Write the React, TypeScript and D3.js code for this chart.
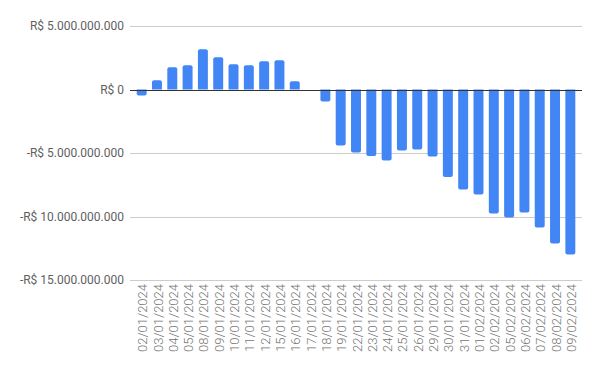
import React, { useRef, useEffect } from "react";
import * as d3 from "d3";

// datas do eixo x
const dates = [
  "02/01/2024", "03/01/2024", "04/01/2024", "05/01/2024", "08/01/2024",
  "09/01/2024", "10/01/2024", "11/01/2024", "12/01/2024", "15/01/2024",
  "16/01/2024", "17/01/2024", "18/01/2024", "19/01/2024", "22/01/2024",
  "23/01/2024", "24/01/2024", "25/01/2024", "26/01/2024", "29/01/2024",
  "30/01/2024", "31/01/2024", "01/02/2024", "02/02/2024", "05/02/2024",
  "06/02/2024", "07/02/2024", "08/02/2024", "09/02/2024",
];

// saldo acumulado em reais
const values = [
  -470000000, 730000000, 1760000000, 1910000000, 3170000000,
  2540000000, 1990000000, 1910000000, 2230000000, 2310000000,
  650000000, 0, -940000000, -4410000000, -4960000000,
  -5230000000, -5590000000, -4800000000, -4720000000, -5280000000,
  -6880000000, -7870000000, -8270000000, -9760000000, -10080000000,
  -9690000000, -10870000000, -12130000000, -12990000000,
];

const yTicks = [5000000000, 0, -5000000000, -10000000000, -15000000000];

const fmt = (v: number) => {
  const s = d3.format(",")(Math.abs(v)).replace(/,/g, ".");
  return (v < 0 ? "-" : "") + "R$ " + s;
};

const App = () => {
  const svgRef = useRef<SVGSVGElement>(null);

  useEffect(() => {
    const svg = d3.select(svgRef.current);
    svg.selectAll("*").remove();

    const left = 130, right = 582;

    const x = d3
      .scaleBand()
      .domain(dates)
      .range([134, 578])
      .paddingInner(0.35)
      .paddingOuter(0.175);

    const y = d3
      .scaleLinear()
      .domain([-15000000000, 5000000000])
      .range([280, 26]);

    // grid
    svg
      .append("g")
      .selectAll("line")
      .data(yTicks.filter((d) => d !== 0))
      .join("line")
      .attr("x1", left)
      .attr("x2", right)
      .attr("y1", (d) => Math.round(y(d)) + 0.5)
      .attr("y2", (d) => Math.round(y(d)) + 0.5)
      .attr("stroke", "#cccccc");

    svg
      .append("g")
      .selectAll("text")
      .data(yTicks)
      .join("text")
      .attr("x", 124)
      .attr("y", (d) => y(d))
      .attr("dy", "0.35em")
      .attr("text-anchor", "end")
      .attr("font-family", "Roboto, sans-serif")
      .attr("font-size", 12)
      .attr("fill", "#5f5f5f")
      .text((d) => fmt(d));

    // barras
    const bw = x.bandwidth();
    const r = 2;
    svg
      .append("g")
      .selectAll("path")
      .data(values.map((v, i) => ({ v, d: dates[i] })).filter((e) => e.v !== 0))
      .join("path")
      .attr("fill", "#4285f4")
      .attr("d", (e) => {
        const x0 = x(e.d)!;
        const y0 = y(0);
        const y1 = y(e.v);
        const s = e.v > 0 ? 1 : -1;
        const p = d3.path();
        p.moveTo(x0, y0);
        p.lineTo(x0, y1 + s * r);
        p.arcTo(x0, y1, x0 + r, y1, r);
        p.lineTo(x0 + bw - r, y1);
        p.arcTo(x0 + bw, y1, x0 + bw, y1 + s * r, r);
        p.lineTo(x0 + bw, y0);
        p.closePath();
        return p.toString();
      });

    // linha do zero
    svg
      .append("line")
      .attr("x1", left)
      .attr("x2", right)
      .attr("y1", Math.round(y(0)) + 0.5)
      .attr("y2", Math.round(y(0)) + 0.5)
      .attr("stroke", "#333333");

    // rótulos do eixo x
    svg
      .append("g")
      .selectAll("text")
      .data(dates)
      .join("text")
      .attr(
        "transform",
        (d) => `translate(${x(d)! + bw / 2 + 1}, 284) rotate(-90)`
      )
      .attr("dy", "0.35em")
      .attr("text-anchor", "end")
      .attr("font-family", "Roboto, sans-serif")
      .attr("font-size", 13)
      .attr("font-weight", 300)
      .attr("fill", "#757575")
      .text((d) => d);
  }, []);

  return (
    <svg
      ref={svgRef}
      width={600}
      height={371}
      style={{ position: "absolute", left: 0, top: 0, background: "#fff" }}
    ></svg>
  );
};

export default App;
